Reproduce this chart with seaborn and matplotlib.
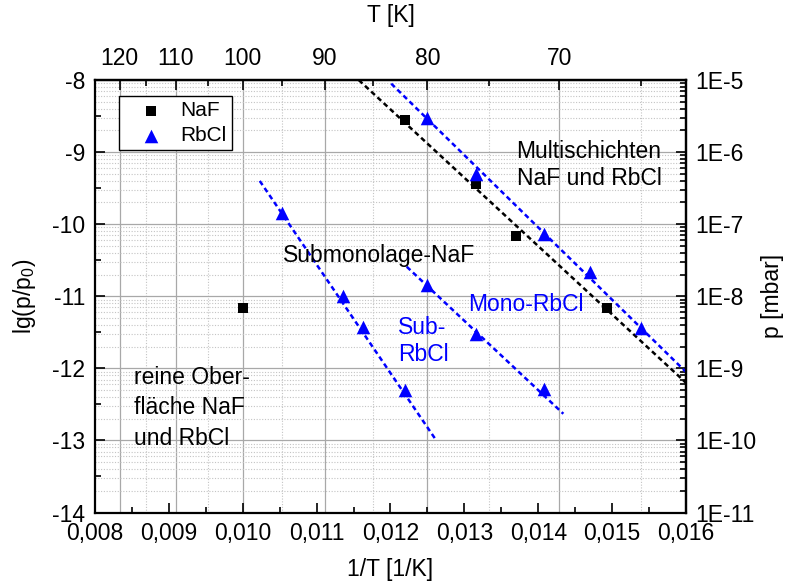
import numpy as np
import pandas as pd
import seaborn as sns
import matplotlib
matplotlib.use("Agg")
import matplotlib.pyplot as plt
from matplotlib.ticker import FixedLocator, FuncFormatter, NullFormatter

# measured points: temperature [K] and lg(p/p0)
naf_T = [82, 76, 73, 67, 100]
naf_lg = [-8.55, -9.44, -10.16, -11.16, -11.16]

rbcl_T = [80, 76, 71, 68, 65, 95, 88, 86, 82, 80, 76, 71]
rbcl_lg = [-8.53, -9.30, -10.13, -10.67, -11.44,
           -9.85, -10.99, -11.42, -12.30,
           -10.84, -11.53, -12.29]

# dashed fit lines (1/T, lg) end points
naf_fit_x = [0.01157, 0.01600]
naf_fit_y = [-8.00, -12.20]
multi_fit_x = [0.01201, 0.01600]
multi_fit_y = [-8.05, -12.05]
sub_fit_x = [0.01023, 0.01262]
sub_fit_y = [-9.40, -13.00]
mono_fit_x = [0.01222, 0.01434]
mono_fit_y = [-10.59, -12.63]

# axes ticks
x_major = [0.008, 0.009, 0.010, 0.011, 0.012, 0.013, 0.014, 0.015, 0.016]
x_minor = [0.0085, 0.0095, 0.0105, 0.0115, 0.0125, 0.0135, 0.0145, 0.0155]
y_major = [-14, -13, -12, -11, -10, -9, -8]
y_minor = [-13.5, -12.5, -11.5, -10.5, -9.5, -8.5]
T_major = [120, 110, 100, 90, 80, 70]
T_minor = [115, 105, 95, 85, 75, 65]
p_decades = [-11, -10, -9, -8, -7, -6, -5]
p_subs = [2, 3, 4, 5, 6, 7, 8, 9]

sns.set_theme(style="ticks")
plt.rcParams["font.family"] = ["Liberation Sans", "DejaVu Sans"]
plt.rcParams["mathtext.fontset"] = "custom"
plt.rcParams["mathtext.rm"] = "Liberation Sans"
plt.rcParams["mathtext.it"] = "Liberation Sans"
plt.rcParams["axes.unicode_minus"] = False
for k in ["axes.edgecolor", "text.color", "axes.labelcolor", "xtick.color", "ytick.color"]:
    plt.rcParams[k] = "black"

FS = 16.5

fig = plt.figure(figsize=(7.9, 5.85), dpi=100)
ax = fig.add_axes([0.1203, 0.1239, 0.748, 0.7393])


def inv(x):
    x = np.asarray(x, dtype=float)
    with np.errstate(divide="ignore"):
        return 1.0 / x


def to_p(y):
    return 10.0 ** (np.asarray(y, dtype=float) + 3)


def to_lg(p):
    p = np.asarray(p, dtype=float)
    with np.errstate(divide="ignore", invalid="ignore"):
        return np.log10(p) - 3


# grid from the top (T) and right (p) axes
major_grid = dict(color="#a8a8a8", lw=0.9, zorder=0)
minor_grid = dict(color="#c4c4c4", lw=0.8, ls=(0, (1, 1.5)), zorder=0)
for t in T_major:
    ax.axvline(1.0 / t, **major_grid)
for t in T_minor:
    ax.axvline(1.0 / t, **minor_grid)
for v in y_major:
    ax.axhline(v, **major_grid)
for d in p_decades[:-1]:
    for k in p_subs:
        ax.axhline(np.log10(k) + d - 3, **minor_grid)

# fit lines
dash = (0, (2.0, 1.4))
sns.lineplot(x=naf_fit_x, y=naf_fit_y, color="black", lw=1.8, linestyle=dash, ax=ax, legend=False)
for fx, fy in [(multi_fit_x, multi_fit_y), (sub_fit_x, sub_fit_y), (mono_fit_x, mono_fit_y)]:
    sns.lineplot(x=fx, y=fy, color="blue", lw=1.8, linestyle=dash, ax=ax, legend=False)

# data points
naf = pd.DataFrame({"invT": inv(naf_T), "lg": naf_lg})
rbcl = pd.DataFrame({"invT": inv(rbcl_T), "lg": rbcl_lg})
sns.scatterplot(data=naf, x="invT", y="lg", marker="s", s=56, color="black",
                edgecolor="black", linewidth=0, label="NaF", ax=ax, zorder=5)
sns.scatterplot(data=rbcl, x="invT", y="lg", marker="^", s=95, color="blue",
                edgecolor="blue", linewidth=0, label="RbCl", ax=ax, zorder=5)

ax.set_xlim(0.008, 0.016)
ax.set_ylim(-14, -8)

ax.xaxis.set_major_locator(FixedLocator(x_major))
ax.xaxis.set_minor_locator(FixedLocator(x_minor))
ax.xaxis.set_major_formatter(FuncFormatter(lambda v, p: f"{v:.3f}".replace(".", ",")))
ax.yaxis.set_major_locator(FixedLocator(y_major))
ax.yaxis.set_minor_locator(FixedLocator(y_minor))
ax.yaxis.set_major_formatter(FuncFormatter(lambda v, p: f"{v:.0f}"))
ax.tick_params(which="both", direction="in", top=False, right=False, width=1.2, labelsize=FS, pad=7)
ax.tick_params(which="major", length=7)
ax.tick_params(which="minor", length=4)
for s in ax.spines.values():
    s.set_linewidth(1.6)
    s.set_color("black")

ax.set_xlabel("1/T [1/K]", fontsize=FS, labelpad=9)
ax.set_ylabel("lg(p/p$_0$)", fontsize=FS, labelpad=10)

# top axis: temperature
secx = ax.secondary_xaxis("top", functions=(inv, inv))
secx.xaxis.set_major_locator(FixedLocator(T_major))
secx.xaxis.set_minor_locator(FixedLocator(T_minor))
secx.xaxis.set_major_formatter(FuncFormatter(lambda v, p: f"{v:.0f}"))
secx.xaxis.set_minor_formatter(NullFormatter())
secx.tick_params(which="both", direction="in", width=1.2, labelsize=FS, pad=7)
secx.tick_params(which="major", length=7)
secx.tick_params(which="minor", length=4)
secx.spines["top"].set_linewidth(1.6)
secx.set_xlabel("T [K]", fontsize=FS, labelpad=18)

# right axis: pressure
p_major = [10.0 ** d for d in p_decades]
p_minor = [k * 10.0 ** d for d in p_decades[:-1] for k in p_subs]
secy = ax.secondary_yaxis("right", functions=(to_p, to_lg))
secy.yaxis.set_major_locator(FixedLocator(p_major))
secy.yaxis.set_minor_locator(FixedLocator(p_minor))
secy.yaxis.set_major_formatter(FuncFormatter(lambda v, p: f"1E{int(round(np.log10(v)))}"))
secy.yaxis.set_minor_formatter(NullFormatter())
secy.tick_params(which="both", direction="in", width=1.2, labelsize=FS, pad=7)
secy.tick_params(which="major", length=7)
secy.tick_params(which="minor", length=4)
secy.spines["right"].set_linewidth(1.6)
secy.set_ylabel("p [mbar]", fontsize=FS, rotation=90, labelpad=3)

# region labels
ax.text(0.013706, -9.18, "Multischichten\nNaF und RbCl", fontsize=FS, va="center", ha="left", linespacing=1.23)
ax.text(0.010548, -10.44, "Submonolage-NaF", fontsize=FS, va="center", ha="left")
ax.text(0.013051, -11.11, "Mono-RbCl", fontsize=FS, va="center", ha="left", color="blue")
ax.text(0.012104, -11.62, "Sub-\nRbCl", fontsize=FS, va="center", ha="left", color="blue", linespacing=1.25)
ax.text(0.008532, -12.55, "reine Ober-\nfläche NaF\nund RbCl", fontsize=FS, va="center", ha="left", linespacing=1.4)

leg = ax.legend(loc="upper left", bbox_to_anchor=(0.041, 0.963), frameon=True, fancybox=False,
                edgecolor="black", framealpha=1, borderpad=0.25, handlelength=2.5,
                handletextpad=0.2, labelspacing=0.28, fontsize=15, borderaxespad=0)
leg.get_frame().set_linewidth(1.0)

fig.savefig("out.png", dpi=100)
